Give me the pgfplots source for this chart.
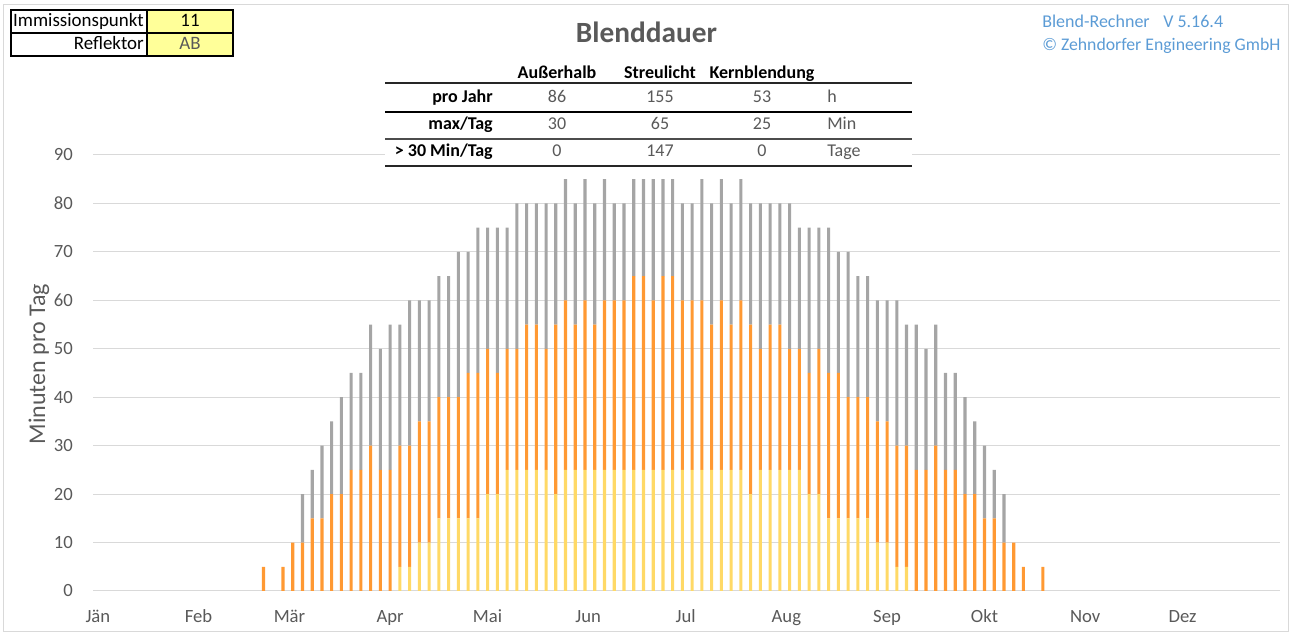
\documentclass[border=0pt]{standalone}
\usepackage{fontspec}
\setmainfont{Carlito}
\usepackage{pgfplots}
\pgfplotsset{compat=1.18}
\usepackage{pgfplotstable}
\definecolor{cgrid}{HTML}{D9D9D9}
\definecolor{ctxt}{HTML}{595959}
\definecolor{cblue}{HTML}{5B9BD5}
\definecolor{cgray}{HTML}{A5A5A5}
\definecolor{corange}{HTML}{FF9933}
\definecolor{cyellow}{HTML}{FFD966}
\definecolor{cfill}{HTML}{FFFF99}

% day of year, Kernblendung, Streulicht, Ausserhalb (minutes per day, stacked segments)
\pgfplotstableread{
day y o g
51 0 5 0
57 0 5 0
60 0 10 0
63 0 10 10
66 0 15 10
69 0 15 15
72 0 20 15
75 0 20 20
78 0 25 20
81 0 25 20
84 0 30 25
87 0 25 25
90 0 25 30
93 5 25 25
96 5 25 30
99 10 25 25
102 10 25 25
105 15 25 25
108 15 25 25
111 15 25 30
114 15 30 25
117 15 30 30
120 20 30 25
123 20 25 30
126 25 25 25
129 25 25 30
132 25 30 25
135 25 30 25
138 25 25 30
141 20 35 25
144 25 35 25
147 25 30 25
150 25 35 25
153 25 30 25
156 25 35 25
159 25 35 20
162 25 35 20
165 25 40 20
168 25 40 20
171 25 35 25
174 25 40 20
177 25 40 20
180 25 35 20
183 25 35 20
186 25 35 25
189 25 30 25
192 25 35 25
195 25 30 25
198 25 35 25
201 20 35 25
204 25 25 30
207 25 30 25
210 25 30 25
213 25 25 30
216 25 25 25
219 20 25 30
222 20 30 25
225 15 30 30
228 15 30 25
231 15 25 30
234 15 25 25
237 15 25 25
240 10 25 25
243 10 25 25
246 5 25 30
249 5 25 25
252 0 25 30
255 0 25 25
258 0 30 25
261 0 25 20
264 0 25 20
267 0 20 20
270 0 20 15
273 0 15 15
276 0 15 10
279 0 10 10
282 0 10 0
285 0 5 0
291 0 5 0
}\blend

\begin{document}
\begin{tikzpicture}[x=0.75pt,y=0.75pt]
\path[use as bounding box] (0,0) rectangle (1290,635);
\draw[cgrid, line width=0.75pt] (3,3) rectangle (1288,630);
\begin{axis}[
  at={(69.75pt,33pt)}, anchor=south west, scale only axis,
  width=890.25pt, height=327pt,
  xmin=-1.5, xmax=364, ymin=0, ymax=90,
  ybar stacked, bar width=0.95,
  axis line style={draw=none}, tick style={draw=none},
  major tick length=0pt,
  ymajorgrids, grid style={cgrid, line width=0.75pt},
  ytick={0,10,...,90},
  xtick={0,31,59,90,120,151,181,212,243,273,304,334},
  xticklabels={Jän,Feb,Mär,Apr,Mai,Jun,Jul,Aug,Sep,Okt,Nov,Dez},
  /pgf/number format/assume math mode=true,
  ticklabel style={font=\fontsize{14}{16}\selectfont, text=ctxt},
  yticklabel style={anchor=east, inner sep=0pt, xshift=-15pt},
  xticklabel style={anchor=base, inner sep=0pt, yshift=-24pt},
  ylabel={Minuten pro Tag},
  ylabel style={at={(rel axis cs:-0.0455,0.52)}, anchor=center,
    font=\fontsize{18}{20}\selectfont, text=ctxt},
]
\addplot[fill=cyellow, draw=none] table[x=day,y=y]{\blend};
\addplot[fill=corange, draw=none] table[x=day,y=o]{\blend};
\addplot[fill=cgray, draw=none] table[x=day,y=g]{\blend};
\end{axis}

% title
\node[anchor=base, font=\fontsize{22}{26}\selectfont\bfseries, text=ctxt, inner sep=0pt] at (646.5,592) {Blenddauer};

% top right
\node[anchor=base west, font=\fontsize{13.5}{16}\selectfont, text=cblue, inner sep=0pt] at (1042,607) {Blend-Rechner};
\node[anchor=base west, font=\fontsize{13.5}{16}\selectfont, text=cblue, inner sep=0pt] at (1163,607) {V 5.16.4};
\node[anchor=base west, font=\fontsize{13.3}{16}\selectfont, text=cblue, inner sep=0pt] at (1042,584) {© Zehndorfer Engineering GmbH};

% top left table
\fill[cfill] (147,579) rectangle (233,625);
\draw[line width=0.9pt] (11,579) rectangle (233,625);
\draw[line width=0.9pt] (11,602) -- (233,602);
\draw[line width=0.9pt] (147,579) -- (147,625);
\begin{scope}[every node/.style={font=\fontsize{14.2}{16}\selectfont, inner sep=0pt}]
\node[anchor=base east] at (144,608) {Immissionspunkt};
\node[anchor=base east] at (144,585) {Reflektor};
\node[anchor=base] at (190,608) {11};
\node[anchor=base, text=ctxt] at (190,585) {AB};
\end{scope}

% central table
\fill[white] (385,468) rectangle (912,560);
\draw[line width=0.9pt, black!85] (385,552) -- (912,552);
\draw[line width=1.7pt, black] (385,523) -- (912,523);
\draw[line width=0.8pt, black!70] (385,496) -- (912,496);
\draw[line width=0.9pt, black!85] (385,469) -- (912,469);
\begin{scope}[every node/.style={font=\fontsize{13.5}{16}\selectfont, inner sep=0pt}]
\node[anchor=base, font=\fontsize{13.5}{16}\selectfont\bfseries] at (557,556) {Außerhalb};
\node[anchor=base, font=\fontsize{13.5}{16}\selectfont\bfseries] at (660,556) {Streulicht};
\node[anchor=base, font=\fontsize{13.5}{16}\selectfont\bfseries] at (762,556) {Kernblendung};
\node[anchor=base east, font=\fontsize{13.5}{16}\selectfont\bfseries] at (493,532) {pro Jahr};
\node[anchor=base east, font=\fontsize{13.5}{16}\selectfont\bfseries] at (493,505) {max/Tag};
\node[anchor=base east, font=\fontsize{13.5}{16}\selectfont\bfseries] at (493,478) {> 30 Min/Tag};
\node[anchor=base, text=ctxt] at (557,532) {86};
\node[anchor=base, text=ctxt] at (660,532) {155};
\node[anchor=base, text=ctxt] at (762,532) {53};
\node[anchor=base, text=ctxt] at (557,505) {30};
\node[anchor=base, text=ctxt] at (660,505) {65};
\node[anchor=base, text=ctxt] at (762,505) {25};
\node[anchor=base, text=ctxt] at (557,478) {0};
\node[anchor=base, text=ctxt] at (660,478) {147};
\node[anchor=base, text=ctxt] at (762,478) {0};
\node[anchor=base west, text=ctxt] at (827,532) {h};
\node[anchor=base west, text=ctxt] at (827,505) {Min};
\node[anchor=base west, text=ctxt] at (827,478) {Tage};
\end{scope}
\end{tikzpicture}
\end{document}
